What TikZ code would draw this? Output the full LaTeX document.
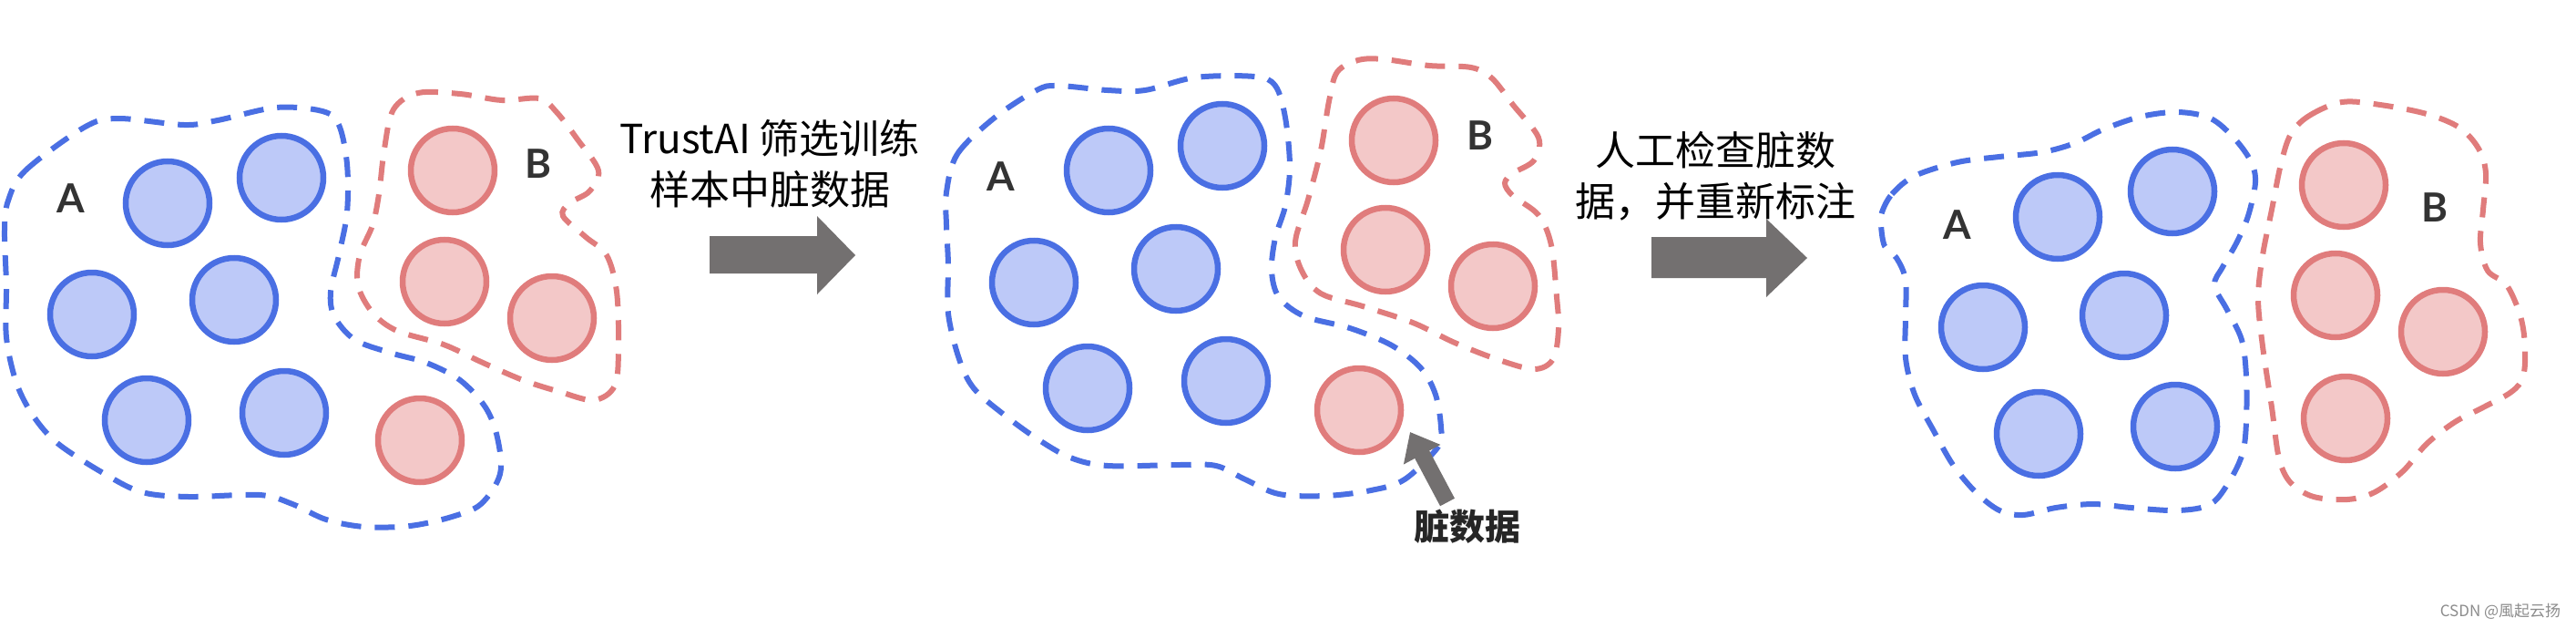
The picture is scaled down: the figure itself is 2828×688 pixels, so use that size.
\documentclass[tikz,border=0pt]{standalone}
\usepackage{fontspec}
\setmainfont{Noto Sans CJK SC}
\newfontfamily\labfont{Lato}
\usetikzlibrary{arrows.meta}
\definecolor{bstroke}{HTML}{4A6FE3}
\definecolor{bfill}{HTML}{BDC9F8}
\definecolor{rstroke}{HTML}{E07C7C}
\definecolor{rfill}{HTML}{F3C8C8}
\definecolor{agrey}{HTML}{737070}
\definecolor{labc}{HTML}{333333}
\begin{document}
\begin{tikzpicture}[x=1pt,y=-1pt,
  bball/.style={circle,draw=bstroke,fill=bfill,line width=6.5pt,minimum size=92pt,inner sep=0pt},
  rball/.style={circle,draw=rstroke,fill=rfill,line width=6.5pt,minimum size=92pt,inner sep=0pt},
  bbound/.style={draw=bstroke,line width=6pt,dash pattern=on 22pt off 15pt},
  rbound/.style={draw=rstroke,line width=6pt,dash pattern=on 22pt off 15pt},
  setlab/.style={font=\labfont\bfseries\fontsize{44}{44}\selectfont,text=labc,inner sep=0pt},
  caption/.style={align=center,font=\fontsize{44}{56}\selectfont,inner sep=0pt},
  bigarrow/.style={fill=agrey},
  dirtyarrow/.style={draw=agrey,line width=18pt,-{Triangle[length=28pt,width=44pt]}}
]
\useasboundingbox (0,0) rectangle (2828,688);
\fill[white] (0,0) rectangle (2828,688);

% ---------- panel 1 ----------
\draw[bbound] plot[smooth cycle,tension=0.55] coordinates {(9,220) (28,187) (92,140) (129,130) (202,137) (239,132) (303,118) (354,122) (372,137) (381,180) (381,233) (372,280) (363,320) (367,347) (390,373) (432,388) (468,398) (505,417) (533,447) (546,480) (549,520) (528,553) (496,567) (450,577) (400,578) (358,570) (321,553) (285,543) (207,545) (156,540) (115,520) (64,487) (37,457) (18,420) (7,370) (7,313) (5,253)};
\draw[rbound] plot[smooth cycle,tension=0.55] coordinates {(432,120) (459,102) (505,103) (551,110) (592,108) (611,123) (634,153) (657,187) (647,210) (625,223) (618,237) (643,260) (666,280) (677,320) (679,380) (675,423) (652,439) (615,430) (574,417) (528,397) (487,378) (436,363) (409,343) (393,313) (395,280) (409,247) (416,213) (422,163)};
\node[bball] (p1b1) at (184,223) {};
\node[bball] (p1b2) at (309,195) {};
\node[bball] (p1b3) at (101,345) {};
\node[bball] (p1b4) at (257,329) {};
\node[bball] (p1b5) at (161,461) {};
\node[bball] (p1b6) at (312,453) {};
\node[rball] (p1r1) at (497,187) {};
\node[rball] (p1r2) at (488,309) {};
\node[rball] (p1r3) at (606,349) {};
\node[rball] (p1r4) at (461,483) {};
\node[setlab] (p1A) at (78,218) {A};
\node[setlab] (p1B) at (591,180) {B};

% ---------- transition 1 ----------
\node[caption] (t1) at (845,180) {TrustAI 筛选训练\\样本中脏数据};
\fill[bigarrow] (779,259) -- (897,259) -- (897,237) -- (939,280) -- (897,323) -- (897,300) -- (779,300) -- cycle;

% ---------- panel 2 ----------
\draw[bbound] plot[smooth cycle,tension=0.55] coordinates {(1039,211) (1051,169) (1092,129) (1138,99) (1161,94) (1216,99) (1257,99) (1312,85) (1377,84) (1400,94) (1411,129) (1416,183) (1411,226) (1400,261) (1396,297) (1404,326) (1432,347) (1482,360) (1528,379) (1560,404) (1576,433) (1582,469) (1579,490) (1542,526) (1505,538) (1455,544) (1404,542) (1367,526) (1335,511) (1294,510) (1216,511) (1175,502) (1138,481) (1101,454) (1069,426) (1053,394) (1041,344) (1041,290) (1039,247)};
\draw[rbound] plot[smooth cycle,tension=0.55] coordinates {(1468,79) (1491,66) (1519,65) (1569,72) (1615,74) (1638,86) (1661,115) (1689,151) (1684,176) (1661,190) (1652,201) (1661,215) (1689,236) (1703,269) (1709,326) (1711,361) (1705,394) (1684,405) (1643,394) (1597,376) (1551,354) (1496,336) (1450,322) (1429,297) (1422,265) (1436,219) (1450,165) (1459,111)};
\node[bball] (p2b1) at (1217,187) {};
\node[bball] (p2b2) at (1342,160) {};
\node[bball] (p2b3) at (1135,310) {};
\node[bball] (p2b4) at (1291,295) {};
\node[bball] (p2b5) at (1194,426) {};
\node[bball] (p2b6) at (1346,418) {};
\node[rball] (p2r1) at (1530,154) {};
\node[rball] (p2r2) at (1521,274) {};
\node[rball] (p2r3) at (1639,314) {};
\node[rball] (p2r4) at (1492,450) {};
\node[setlab] (p2A) at (1099,194) {A};
\node[setlab] (p2B) at (1625,149) {B};
\coordinate (dtail) at (1589,551);
\coordinate (dtip) at (1548,474);
\draw[dirtyarrow] (dtail) -- (dtip);
\node[font=\bfseries\fontsize{39}{39}\selectfont,text=black!85,inner sep=0pt] (dirty) at (1611,578) {脏数据};

% ---------- transition 2 ----------
\node[caption] (t2) at (1883,193) {人工检查脏数\\据，并重新标注};
\fill[bigarrow] (1813,260) -- (1939,260) -- (1939,240) -- (1984,283) -- (1939,326) -- (1939,305) -- (1813,305) -- cycle;

% ---------- panel 3 ----------
\draw[bbound] plot[smooth cycle,tension=0.55] coordinates {(2066,233) (2077,213) (2102,193) (2149,178) (2195,172) (2242,167) (2278,157) (2309,142) (2350,128) (2391,123) (2427,130) (2453,152) (2471,177) (2476,200) (2468,237) (2455,267) (2440,293) (2431,313) (2445,340) (2461,373) (2466,413) (2466,463) (2462,497) (2448,527) (2427,553) (2391,560) (2339,557) (2298,553) (2257,557) (2221,565) (2195,560) (2169,540) (2144,510) (2123,473) (2102,433) (2092,393) (2092,347) (2092,307) (2082,283) (2069,270) (2065,247)};
\draw[rbound] plot[smooth cycle,tension=0.55] coordinates {(2515,147) (2535,127) (2571,112) (2613,115) (2664,125) (2700,140) (2721,163) (2729,190) (2726,230) (2723,267) (2731,297) (2752,313) (2767,347) (2772,380) (2770,413) (2757,430) (2726,447) (2695,463) (2664,487) (2638,517) (2607,540) (2577,548) (2540,545) (2515,530) (2502,503) (2494,447) (2484,380) (2479,327) (2484,280) (2494,230) (2504,180)};
\node[bball] (p3b1) at (2259,238) {};
\node[bball] (p3b2) at (2385,210) {};
\node[bball] (p3b3) at (2177,359) {};
\node[bball] (p3b4) at (2332,346) {};
\node[bball] (p3b5) at (2238,476) {};
\node[bball] (p3b6) at (2388,468) {};
\node[rball] (p3r1) at (2573,203) {};
\node[rball] (p3r2) at (2564,324) {};
\node[rball] (p3r3) at (2682,364) {};
\node[rball] (p3r4) at (2575,459) {};
\node[setlab] (p3A) at (2149,247) {A};
\node[setlab] (p3B) at (2673,228) {B};

% ---------- watermark ----------
\node[font=\fontsize{17}{17}\selectfont,text=black!45,inner sep=0pt] (wm) at (2745,671) {CSDN @風起云扬};
\end{tikzpicture}
\end{document}
